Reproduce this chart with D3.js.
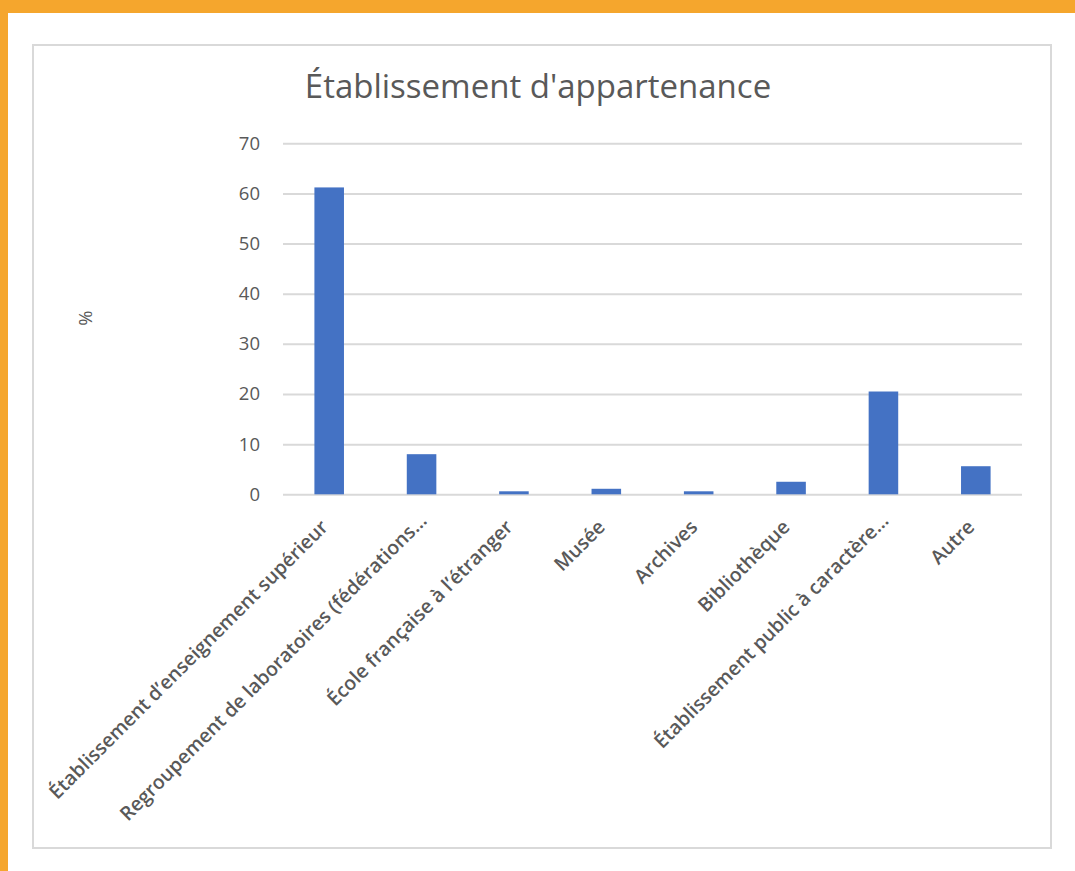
<!DOCTYPE html>
<html>
<head>
<meta charset="utf-8">
<script src="https://cdn.jsdelivr.net/npm/d3@7"></script>
<style>
  html, body { margin: 0; padding: 0; background: #fff; }
  svg { display: block; }
</style>
</head>
<body>
<script>
// values (%)
var CATEGORIES = [
  'Établissement d’enseignement supérieur',
  'Regroupement de laboratoires (fédérations…',
  'École française à l’étranger',
  'Musée',
  'Archives',
  'Bibliothèque',
  'Établissement public à caractère…',
  'Autre'
];
var VALUES = [61.2, 8.0, 0.6, 1.1, 0.6, 2.5, 20.5, 5.6];
var Y_TICKS = [0, 10, 20, 30, 40, 50, 60, 70];

var WIDTH = 1075;
var HEIGHT = 871;
var TEXT_COLOR = '#595959';
var GRID_COLOR = '#d9d9d9';
var BAR_COLOR = '#4472c4';

var plot = {left: 283, right: 1022, top: 143.3, bottom: 494.3};

var svg = d3.select('body').append('svg')
    .attr('width', WIDTH)
    .attr('height', HEIGHT);

// orange frame around the page
svg.append('rect')
    .attr('width', WIDTH).attr('height', HEIGHT)
    .attr('fill', '#f5a62d');
svg.append('rect')
    .attr('x', 8).attr('y', 13)
    .attr('width', WIDTH - 8).attr('height', HEIGHT - 13)
    .attr('fill', '#fff');

// chart area border
svg.append('rect')
    .attr('x', 33).attr('y', 45)
    .attr('width', 1018).attr('height', 803)
    .attr('fill', '#fff')
    .attr('stroke', GRID_COLOR)
    .attr('stroke-width', 2);

var x = d3.scaleBand()
    .domain(CATEGORIES)
    .range([plot.left, plot.right])
    .paddingInner(0.68)
    .paddingOuter(0.34);

var y = d3.scaleLinear()
    .domain([0, 70])
    .range([plot.bottom, plot.top]);

// title
svg.append('text')
    .attr('x', 538).attr('y', 98)
    .attr('text-anchor', 'middle')
    .attr('font-family', 'Open Sans, sans-serif')
    .attr('font-size', 33)
    .attr('fill', TEXT_COLOR)
    .text('Établissement d\'appartenance');

// gridlines and y tick labels
var yAxis = d3.axisLeft(y)
    .tickValues(Y_TICKS)
    .tickSize(-(plot.right - plot.left))
    .tickPadding(23);

var yAxisG = svg.append('g')
    .attr('transform', 'translate(' + plot.left + ',0)')
    .call(yAxis);
yAxisG.select('.domain').remove();
yAxisG.selectAll('.tick line')
    .attr('stroke', GRID_COLOR)
    .attr('stroke-width', 2);
yAxisG.selectAll('.tick text')
    .attr('fill', TEXT_COLOR)
    .attr('font-family', 'Open Sans, sans-serif')
    .attr('font-size', 18.5);

// y axis title
svg.append('text')
    .attr('transform', 'translate(92,318) rotate(-90)')
    .attr('text-anchor', 'middle')
    .attr('font-family', 'Open Sans, sans-serif')
    .attr('font-size', 18.5)
    .attr('fill', TEXT_COLOR)
    .text('%');

// bars
svg.append('g').selectAll('rect')
    .data(VALUES)
    .enter().append('rect')
    .attr('x', function(d, i) { return x(CATEGORIES[i]); })
    .attr('y', function(d) { return y(d); })
    .attr('width', x.bandwidth())
    .attr('height', function(d) { return y(0) - y(d); })
    .attr('fill', BAR_COLOR);

// rotated category labels, anchored by the end of their baseline;
// truncated ones (ending with an ellipsis) sit a little further out
svg.append('g').selectAll('text')
    .data(CATEGORIES)
    .enter().append('text')
    .attr('transform', function(d) {
      var cx = x(d) + x.bandwidth() / 2;
      return 'translate(' + cx + ',' + (plot.bottom + 34) + ') rotate(-45)';
    })
    .attr('x', function(d) { return d.slice(-1) === '…' ? 9 : 0; })
    .attr('text-anchor', 'end')
    .attr('font-family', 'Open Sans, sans-serif')
    .attr('font-weight', 600)
    .attr('font-size', 19.5)
    .attr('fill', TEXT_COLOR)
    .text(function(d) { return d; });
</script>
</body>
</html>
